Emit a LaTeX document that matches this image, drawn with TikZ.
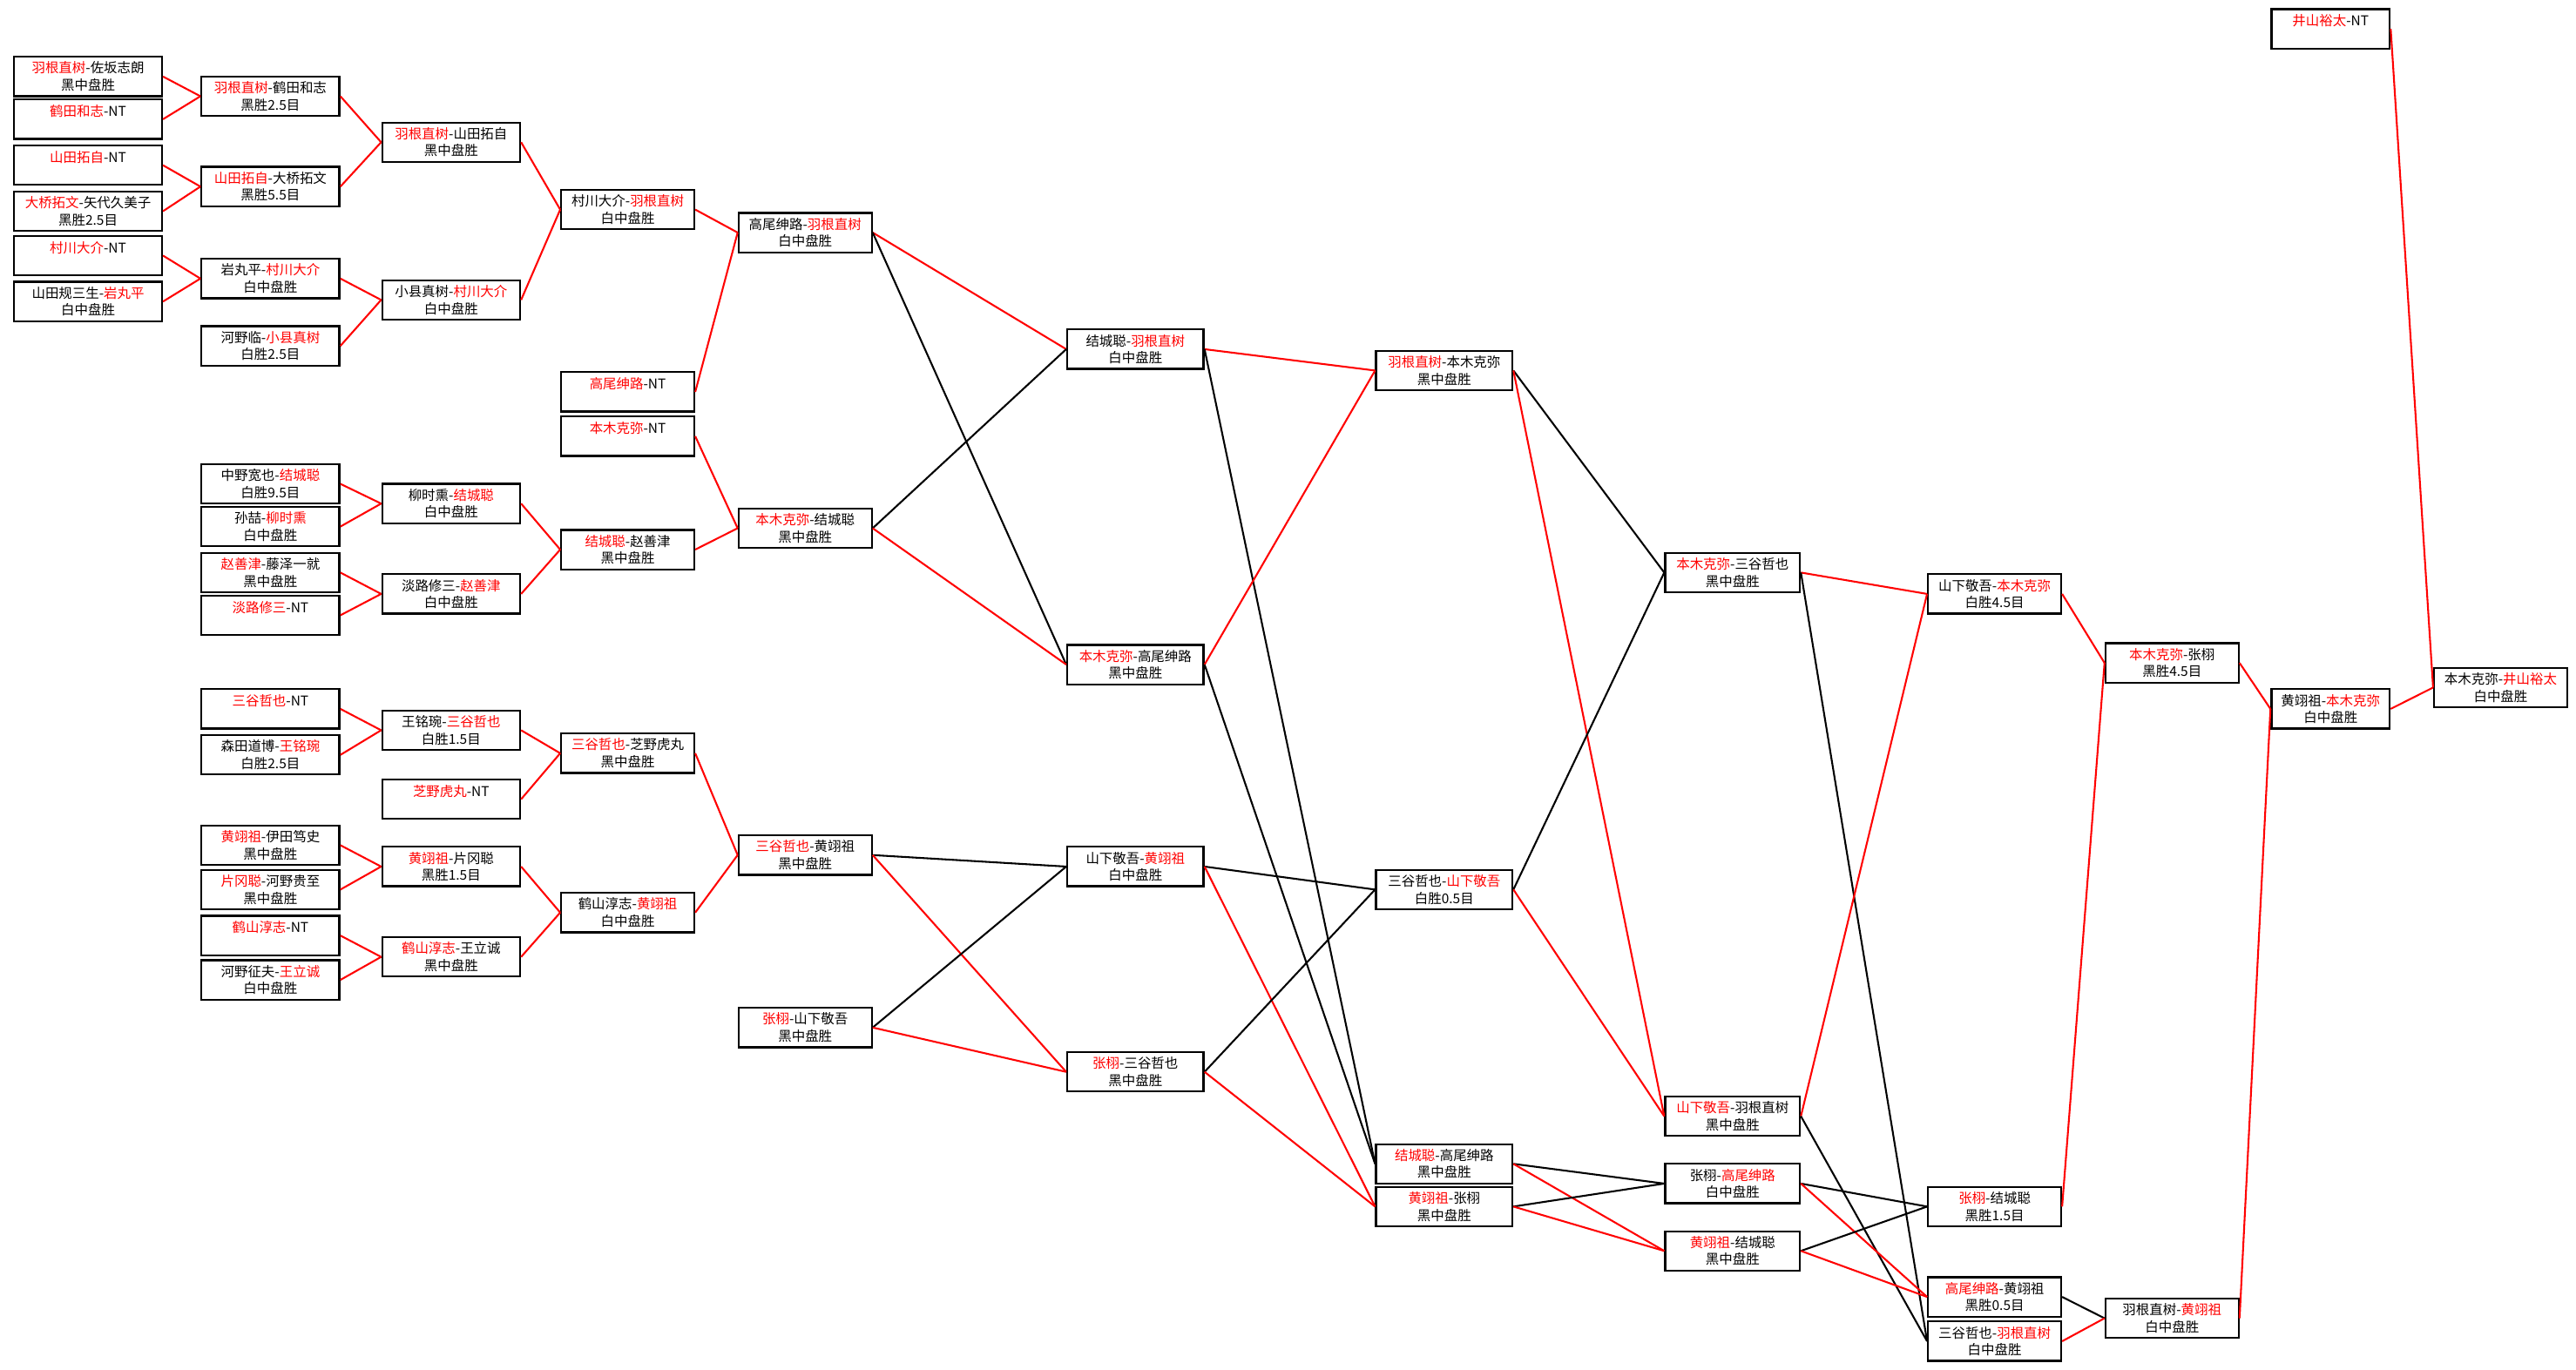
\documentclass[tikz,border=0pt]{standalone}
\usepackage{fontspec}
\newfontfamily\cjk{Noto Sans CJK SC}
\newcommand{\rn}[1]{\textcolor{red}{#1}}

\begin{document}
\begin{tikzpicture}[x=1pt,y=1pt,
    match/.style={draw, line width=1.2pt, minimum width=#1pt, minimum height=24pt,
      anchor=north west, align=center, inner sep=0pt,
      font=\cjk\fontsize{8.2}{10.4}\selectfont},
    win/.style={red, line width=1.1pt},
    lose/.style={black, line width=1.1pt}]
  \useasboundingbox [fill=white] (0,0) rectangle (1568,-834);

  % first round
  \node (a1) [match=90] at (8,-34)  {\rn{羽根直树}-佐坂志朗\\黑中盘胜};
  \node (a2) [match=90] at (8,-60)  {\rn{鹤田和志}-NT\\\mbox{}};
  \node (a3) [match=90] at (8,-88)  {\rn{山田拓自}-NT\\\mbox{}};
  \node (a4) [match=90] at (8,-116) {\rn{大桥拓文}-矢代久美子\\黑胜2.5目};
  \node (a5) [match=90] at (8,-143) {\rn{村川大介}-NT\\\mbox{}};
  \node (a6) [match=90] at (8,-171) {山田规三生-\rn{岩丸平}\\白中盘胜};

  \node (b1)  [match=84] at (122,-46)  {\rn{羽根直树}-鹤田和志\\黑胜2.5目};
  \node (b2)  [match=84] at (122,-101) {\rn{山田拓自}-大桥拓文\\黑胜5.5目};
  \node (b3)  [match=84] at (122,-157) {岩丸平-\rn{村川大介}\\白中盘胜};
  \node (b4)  [match=84] at (122,-198) {河野临-\rn{小县真树}\\白胜2.5目};
  \node (b5)  [match=84] at (122,-282) {中野宽也-\rn{结城聪}\\白胜9.5目};
  \node (b6)  [match=84] at (122,-308) {孙喆-\rn{柳时熏}\\白中盘胜};
  \node (b7)  [match=84] at (122,-336) {\rn{赵善津}-藤泽一就\\黑中盘胜};
  \node (b8)  [match=84] at (122,-362) {\rn{淡路修三}-NT\\\mbox{}};
  \node (b9)  [match=84] at (122,-419) {\rn{三谷哲也}-NT\\\mbox{}};
  \node (b10) [match=84] at (122,-447) {森田道博-\rn{王铭琬}\\白胜2.5目};
  \node (b11) [match=84] at (122,-502) {\rn{黄翊祖}-伊田笃史\\黑中盘胜};
  \node (b12) [match=84] at (122,-529) {\rn{片冈聪}-河野贵至\\黑中盘胜};
  \node (b13) [match=84] at (122,-557) {\rn{鹤山淳志}-NT\\\mbox{}};
  \node (b14) [match=84] at (122,-584) {河野征夫-\rn{王立诚}\\白中盘胜};

  \node (c1) [match=84] at (232,-74)  {\rn{羽根直树}-山田拓自\\黑中盘胜};
  \node (c2) [match=84] at (232,-170) {小县真树-\rn{村川大介}\\白中盘胜};
  \node (c3) [match=84] at (232,-294) {柳时熏-\rn{结城聪}\\白中盘胜};
  \node (c4) [match=84] at (232,-349) {淡路修三-\rn{赵善津}\\白中盘胜};
  \node (c5) [match=84] at (232,-432) {王铭琬-\rn{三谷哲也}\\白胜1.5目};
  \node (c6) [match=84] at (232,-474) {\rn{芝野虎丸}-NT\\\mbox{}};
  \node (c7) [match=84] at (232,-515) {\rn{黄翊祖}-片冈聪\\黑胜1.5目};
  \node (c8) [match=84] at (232,-570) {\rn{鹤山淳志}-王立诚\\黑中盘胜};

  \node (d1) [match=81] at (341,-115) {村川大介-\rn{羽根直树}\\白中盘胜};
  \node (d2) [match=81] at (341,-226) {\rn{高尾绅路}-NT\\\mbox{}};
  \node (d3) [match=81] at (341,-253) {\rn{本木克弥}-NT\\\mbox{}};
  \node (d4) [match=81] at (341,-322) {\rn{结城聪}-赵善津\\黑中盘胜};
  \node (d5) [match=81] at (341,-446) {\rn{三谷哲也}-芝野虎丸\\黑中盘胜};
  \node (d6) [match=81] at (341,-543) {鹤山淳志-\rn{黄翊祖}\\白中盘胜};

  \node (e1) [match=81] at (449,-129) {高尾绅路-\rn{羽根直树}\\白中盘胜};
  \node (e2) [match=81] at (449,-309) {\rn{本木克弥}-结城聪\\黑中盘胜};
  \node (e3) [match=81] at (449,-508) {\rn{三谷哲也}-黄翊祖\\黑中盘胜};
  \node (e4) [match=81] at (449,-613) {\rn{张栩}-山下敬吾\\黑中盘胜};

  % final stage
  \node (f1) [match=83] at (649,-200) {结城聪-\rn{羽根直树}\\白中盘胜};
  \node (f2) [match=83] at (649,-392) {\rn{本木克弥}-高尾绅路\\黑中盘胜};
  \node (f3) [match=83] at (649,-515) {山下敬吾-\rn{黄翊祖}\\白中盘胜};
  \node (f4) [match=83] at (649,-640) {\rn{张栩}-三谷哲也\\黑中盘胜};

  \node (g1) [match=83] at (837,-213) {\rn{羽根直树}-本木克弥\\黑中盘胜};
  \node (g2) [match=83] at (837,-529) {三谷哲也-\rn{山下敬吾}\\白胜0.5目};
  \node (g3) [match=83] at (837,-696) {\rn{结城聪}-高尾绅路\\黑中盘胜};
  \node (g4) [match=83] at (837,-722) {\rn{黄翊祖}-张栩\\黑中盘胜};

  \node (h1) [match=82] at (1013,-336) {\rn{本木克弥}-三谷哲也\\黑中盘胜};
  \node (h2) [match=82] at (1013,-667) {\rn{山下敬吾}-羽根直树\\黑中盘胜};
  \node (h3) [match=82] at (1013,-708) {张栩-\rn{高尾绅路}\\白中盘胜};
  \node (h4) [match=82] at (1013,-749) {\rn{黄翊祖}-结城聪\\黑中盘胜};

  \node (i1) [match=81] at (1173,-349) {山下敬吾-\rn{本木克弥}\\白胜4.5目};
  \node (i2) [match=81] at (1173,-722) {\rn{张栩}-结城聪\\黑胜1.5目};
  \node (i3) [match=81] at (1173,-777) {\rn{高尾绅路}-黄翊祖\\黑胜0.5目};
  \node (i4) [match=81] at (1173,-804) {三谷哲也-\rn{羽根直树}\\白中盘胜};

  \node (j1) [match=81] at (1281,-391) {\rn{本木克弥}-张栩\\黑胜4.5目};
  \node (j2) [match=81] at (1281,-790) {羽根直树-\rn{黄翊祖}\\白中盘胜};

  \node (k1) [match=72] at (1382,-5)   {\rn{井山裕太}-NT\\\mbox{}};
  \node (k2) [match=72] at (1382,-419) {黄翊祖-\rn{本木克弥}\\白中盘胜};

  \node (l1) [match=81] at (1481,-406) {本木克弥-\rn{井山裕太}\\白中盘胜};

  % first round paths
  \draw [win] (a1.east) -- (b1.west);
  \draw [win] (a2.east) -- (b1.west);
  \draw [win] (a3.east) -- (b2.west);
  \draw [win] (a4.east) -- (b2.west);
  \draw [win] (a5.east) -- (b3.west);
  \draw [win] (a6.east) -- (b3.west);

  \draw [win] (b1.east)  -- (c1.west);
  \draw [win] (b2.east)  -- (c1.west);
  \draw [win] (b3.east)  -- (c2.west);
  \draw [win] (b4.east)  -- (c2.west);
  \draw [win] (b5.east)  -- (c3.west);
  \draw [win] (b6.east)  -- (c3.west);
  \draw [win] (b7.east)  -- (c4.west);
  \draw [win] (b8.east)  -- (c4.west);
  \draw [win] (b9.east)  -- (c5.west);
  \draw [win] (b10.east) -- (c5.west);
  \draw [win] (b11.east) -- (c7.west);
  \draw [win] (b12.east) -- (c7.west);
  \draw [win] (b13.east) -- (c8.west);
  \draw [win] (b14.east) -- (c8.west);

  \draw [win] (c1.east) -- (d1.west);
  \draw [win] (c2.east) -- (d1.west);
  \draw [win] (c3.east) -- (d4.west);
  \draw [win] (c4.east) -- (d4.west);
  \draw [win] (c5.east) -- (d5.west);
  \draw [win] (c6.east) -- (d5.west);
  \draw [win] (c7.east) -- (d6.west);
  \draw [win] (c8.east) -- (d6.west);

  \draw [win] (d1.east) -- (e1.west);
  \draw [win] (d2.east) -- (e1.west);
  \draw [win] (d3.east) -- (e2.west);
  \draw [win] (d4.east) -- (e2.west);
  \draw [win] (d5.east) -- (e3.west);
  \draw [win] (d6.east) -- (e3.west);

  % final stage paths
  \draw [win]  (e1.east) -- (f1.west);
  \draw [lose] (e1.east) -- (f2.west);
  \draw [lose] (e2.east) -- (f1.west);
  \draw [win]  (e2.east) -- (f2.west);
  \draw [lose] (e3.east) -- (f3.west);
  \draw [win]  (e3.east) -- (f4.west);
  \draw [lose] (e4.east) -- (f3.west);
  \draw [win]  (e4.east) -- (f4.west);

  \draw [win]  (f1.east) -- (g1.west);
  \draw [lose] (f1.east) -- (g3.west);
  \draw [win]  (f2.east) -- (g1.west);
  \draw [lose] (f2.east) -- (g3.west);
  \draw [lose] (f3.east) -- (g2.west);
  \draw [win]  (f3.east) -- (g4.west);
  \draw [lose] (f4.east) -- (g2.west);
  \draw [win]  (f4.east) -- (g4.west);

  \draw [lose] (g1.east) -- (h1.west);
  \draw [win]  (g1.east) -- (h2.west);
  \draw [lose] (g2.east) -- (h1.west);
  \draw [win]  (g2.east) -- (h2.west);
  \draw [lose] (g3.east) -- (h3.west);
  \draw [win]  (g3.east) -- (h4.west);
  \draw [lose] (g4.east) -- (h3.west);
  \draw [win]  (g4.east) -- (h4.west);

  \draw [win]  (h1.east) -- (i1.west);
  \draw [lose] (h1.east) -- (i4.west);
  \draw [win]  (h2.east) -- (i1.west);
  \draw [lose] (h2.east) -- (i4.west);
  \draw [lose] (h3.east) -- (i2.west);
  \draw [win]  (h3.east) -- (i3.west);
  \draw [lose] (h4.east) -- (i2.west);
  \draw [win]  (h4.east) -- (i3.west);

  \draw [win]  (i1.east) -- (j1.west);
  \draw [win]  (i2.east) -- (j1.west);
  \draw [lose] (i3.east) -- (j2.west);
  \draw [win]  (i4.east) -- (j2.west);

  \draw [win] (j1.east) -- (k2.west);
  \draw [win] (j2.east) -- (k2.west);

  \draw [win] (k1.east) -- (l1.west);
  \draw [win] (k2.east) -- (l1.west);
\end{tikzpicture}
\end{document}
